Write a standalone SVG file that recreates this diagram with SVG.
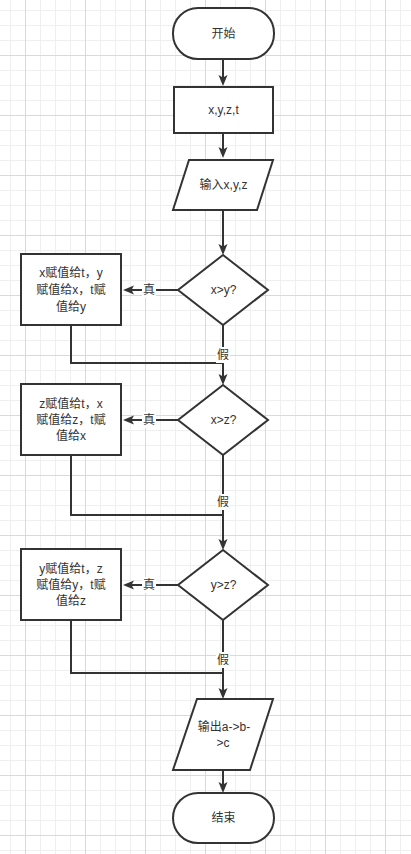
<svg xmlns="http://www.w3.org/2000/svg" width="411" height="854" viewBox="0 0 411 854">
<defs>
<pattern id="minor" patternUnits="userSpaceOnUse" x="10" y="10" width="15" height="15">
<path d="M0,0.5H15M0.5,0V15" stroke="#efefef" stroke-width="1" fill="none"/>
</pattern>
<pattern id="major" patternUnits="userSpaceOnUse" x="25" y="55" width="60" height="60">
<path d="M0,0.5H60M0.5,0V60" stroke="#d9d9d9" stroke-width="1" fill="none"/>
</pattern>
<marker id="arr" markerUnits="userSpaceOnUse" markerWidth="12" markerHeight="10" refX="8" refY="5" orient="auto">
<path d="M0,0.5 L11,5 L0,9.5 L2.5,5 Z" fill="#333"/>
</marker>
</defs>
<style>
.shape{fill:#fff;stroke:#333;stroke-width:2}
.edge{fill:none;stroke:#333;stroke-width:2}
.t{font-family:"Liberation Sans","Noto Sans CJK SC",sans-serif;font-size:12px;fill:#333;text-anchor:middle;dominant-baseline:central}
.lbl{fill:#fff}
</style>
<rect width="411" height="854" fill="#fff"/>
<rect width="411" height="854" fill="url(#minor)"/>
<rect width="411" height="854" fill="url(#major)"/>

<g id="connectors">
<path class="edge" d="M223,59V83" marker-end="url(#arr)"/>
<path class="edge" d="M223,133V155" marker-end="url(#arr)"/>
<path class="edge" d="M223,210V252" marker-end="url(#arr)"/>
<path class="edge" d="M178,290H126" marker-end="url(#arr)"/>
<path class="edge" d="M223,325V382" marker-end="url(#arr)"/>
<path class="edge" d="M71,325V363H223"/>
<path class="edge" d="M178,420H126" marker-end="url(#arr)"/>
<path class="edge" d="M223,455V547" marker-end="url(#arr)"/>
<path class="edge" d="M71,455V515H223"/>
<path class="edge" d="M178,585H126" marker-end="url(#arr)"/>
<path class="edge" d="M223,620V696" marker-end="url(#arr)"/>
<path class="edge" d="M71,620V673H223"/>
<path class="edge" d="M223,770V790" marker-end="url(#arr)"/>
<rect class="lbl" x="142" y="282" width="14" height="16"/>
<text class="t" x="149" y="290">真</text>
<rect class="lbl" x="142" y="412" width="14" height="16"/>
<text class="t" x="149" y="420">真</text>
<rect class="lbl" x="142" y="577" width="14" height="16"/>
<text class="t" x="149" y="585">真</text>
<rect class="lbl" x="216" y="347" width="14" height="16"/>
<text class="t" x="223" y="355">假</text>
<rect class="lbl" x="216" y="494" width="14" height="16"/>
<text class="t" x="223" y="502">假</text>
<rect class="lbl" x="216" y="652" width="14" height="16"/>
<text class="t" x="223" y="660">假</text>
</g>

<g id="start">
<rect class="shape" x="173" y="8" width="101" height="51" rx="25" ry="25"/>
<text class="t" x="223.5" y="33.5">开始</text>
</g>
<g id="vars">
<rect class="shape" x="174" y="87" width="99" height="46"/>
<text class="t" x="223.5" y="110">x,y,z,t</text>
</g>
<g id="input">
<polygon class="shape" points="189,160 273,160 257,210 173,210"/>
<text class="t" x="223.5" y="185">输入x,y,z</text>
</g>
<g id="cond1">
<polygon class="shape" points="223,255 268,290 223,325 178,290"/>
<text class="t" x="223.5" y="290">x&gt;y?</text>
</g>
<g id="swap1">
<rect class="shape" x="21" y="254" width="100" height="71"/>
<text class="t" x="71" y="273">x赋值给t，y</text>
<text class="t" x="71" y="290">赋值给x，t赋</text>
<text class="t" x="71" y="307">值给y</text>
</g>
<g id="cond2">
<polygon class="shape" points="223,385 268,420 223,455 178,420"/>
<text class="t" x="223.5" y="420">x&gt;z?</text>
</g>
<g id="swap2">
<rect class="shape" x="21" y="384" width="100" height="71"/>
<text class="t" x="71" y="404">z赋值给t，x</text>
<text class="t" x="71" y="420">赋值给z，t赋</text>
<text class="t" x="71" y="436">值给x</text>
</g>
<g id="cond3">
<polygon class="shape" points="223,550 268,585 223,620 178,585"/>
<text class="t" x="223.5" y="585">y&gt;z?</text>
</g>
<g id="swap3">
<rect class="shape" x="21" y="549" width="100" height="71"/>
<text class="t" x="71" y="569">y赋值给t，z</text>
<text class="t" x="71" y="585">赋值给y，t赋</text>
<text class="t" x="71" y="601">值给z</text>
</g>
<g id="output">
<polygon class="shape" points="197,699 273,699 250,770 173,770"/>
<text class="t" x="224" y="727">输出a-&gt;b-</text>
<text class="t" x="223" y="743">&gt;c</text>
</g>
<g id="end">
<rect class="shape" x="173" y="793" width="101" height="50" rx="25" ry="25"/>
<text class="t" x="223.5" y="818">结束</text>
</g>
</svg>
